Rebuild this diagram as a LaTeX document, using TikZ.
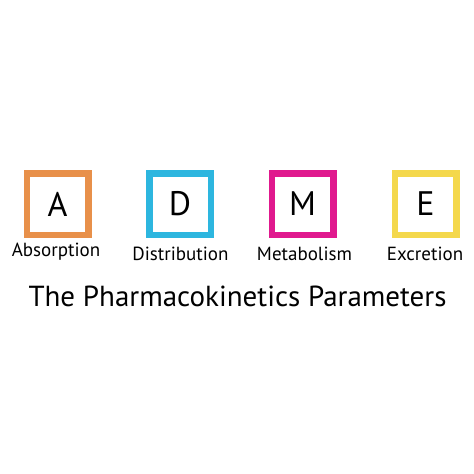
\documentclass[tikz,border=0pt]{standalone}
\usepackage{fontspec}
\setmainfont{PT Sans}
\usepackage{tikz}
\definecolor{absorb}{HTML}{E8904A}
\definecolor{distrib}{HTML}{2DB6DF}
\definecolor{metab}{HTML}{E0198E}
\definecolor{excret}{HTML}{F4D84C}

\begin{document}
\begin{tikzpicture}[x=1pt,y=-1pt]
	\useasboundingbox[fill=white] (0,0) rectangle (474,474);
	\coordinate (c1) at (57.5,204);
	\coordinate (c2) at (180,204);
	\coordinate (c3) at (302.5,204);
	\coordinate (c4) at (425.5,204);
	\coordinate (l1) at (56,252);
	\coordinate (l2) at (180.5,254);
	\coordinate (l3) at (304.5,254);
	\coordinate (l4) at (425,254);
	\coordinate (t) at (237.5,296);

	\node (boxA) at (c1) [draw=absorb,line width=6.5pt,minimum width=61.5pt,minimum height=61.5pt,inner sep=0pt,font=\fontsize{34}{34}\selectfont] {A};
	\node (boxD) at (c2) [draw=distrib,line width=6.5pt,minimum width=61.5pt,minimum height=61.5pt,inner sep=0pt,font=\fontsize{34}{34}\selectfont] {D};
	\node (boxM) at (c3) [draw=metab,line width=6.5pt,minimum width=61.5pt,minimum height=61.5pt,inner sep=0pt,font=\fontsize{34}{34}\selectfont] {M};
	\node (boxE) at (c4) [draw=excret,line width=6.5pt,minimum width=61.5pt,minimum height=61.5pt,inner sep=0pt,font=\fontsize{34}{34}\selectfont] {E};

	\node (labA) at (l1) [inner sep=0pt,font=\fontsize{19}{19}\selectfont] {Absorption};
	\node (labD) at (l2) [inner sep=0pt,font=\fontsize{19}{19}\selectfont] {Distribution};
	\node (labM) at (l3) [inner sep=0pt,font=\fontsize{19}{19}\selectfont] {Metabolism};
	\node (labE) at (l4) [inner sep=0pt,font=\fontsize{19}{19}\selectfont] {Excretion};

	\node (title) at (t) [inner sep=0pt,font=\fontsize{29}{29}\selectfont] {The Pharmacokinetics Parameters};
\end{tikzpicture}
\end{document}
